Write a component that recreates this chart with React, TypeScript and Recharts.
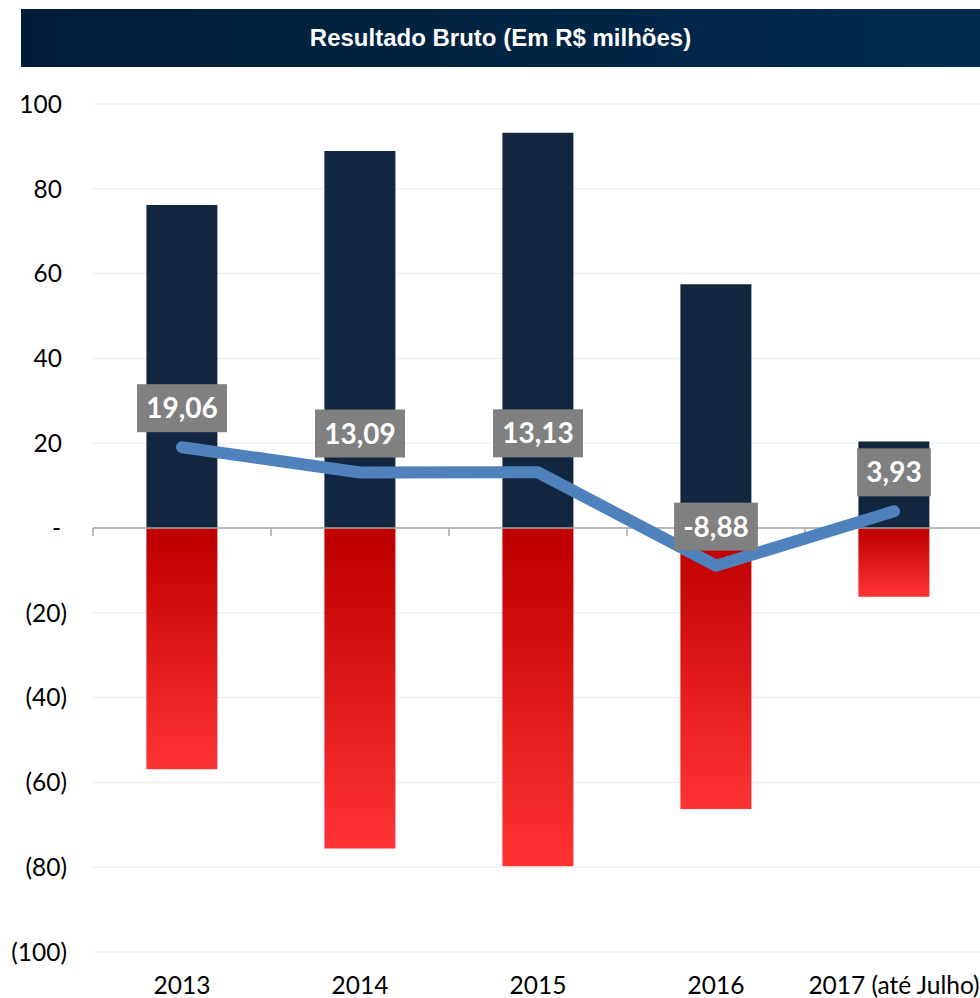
import React from 'react';
import {
  ComposedChart,
  Bar,
  Line,
  XAxis,
  YAxis,
  CartesianGrid,
  ReferenceLine,
} from 'recharts';

const categories = ['2013', '2014', '2015', '2016', '2017 (até Julho)'];
const receitas = [76.2, 88.9, 93.2, 57.5, 20.4];
const custos = [-56.9, -75.6, -79.8, -66.3, -16.2];
const resultado = [19.06, 13.09, 13.13, -8.88, 3.93];
const yTicks = [100, 80, 60, 40, 20, 0, -20, -40, -60, -80, -100];

const data = categories.map((c, i) => ({
  categoria: c,
  receita: receitas[i],
  custo: custos[i],
  resultado: resultado[i],
}));

const fmtLabel = (v: number) => v.toFixed(2).replace('.', ',');

const TICK_FONT = "Lato, 'Open Sans', sans-serif";

const YTick = (props: any) => {
  const { y, payload } = props;
  const v = payload.value as number;
  let txt = '';
  let tx = 62;
  if (v === 0) {
    txt = '-';
    tx = 61;
  } else if (v < 0) {
    txt = `(${Math.abs(v)})`;
    tx = 67;
  } else {
    txt = String(v);
    tx = 62;
  }
  return (
    <text
      x={tx}
      y={y}
      dy="0.36em"
      textAnchor="end"
      fontFamily={TICK_FONT}
      fontSize={24.5}
      fill="#000"
    >
      {txt}
    </text>
  );
};

const XTick = (props: any) => {
  const { x, y, payload } = props;
  return (
    <text
      x={x}
      y={y + 42}
      textAnchor="middle"
      fontFamily={TICK_FONT}
      fontSize={24.5}
      fill="#000"
    >
      {payload.value}
    </text>
  );
};

const ZeroAxis = (props: any) => {
  const { x1, x2, y1 } = props;
  if (x1 == null || x2 == null || y1 == null) return null;
  const n = categories.length;
  const step = (x2 - x1) / n;
  const ticks = [];
  for (let i = 0; i <= n; i++) {
    const tx = x1 + step * i;
    ticks.push(
      <line key={i} x1={tx} x2={tx} y1={y1} y2={y1 + 8} stroke="#A6A6A6" strokeWidth={1.5} />
    );
  }
  return (
    <g>
      <line x1={x1} x2={x2} y1={y1} y2={y1} stroke="#A6A6A6" strokeWidth={1.5} />
      {ticks}
    </g>
  );
};

const LabelDot = (props: any) => {
  const { cx, cy, payload, index } = props;
  if (cx == null || cy == null) return <g key={`ld-${index}`} />;
  const v = payload.resultado as number;
  const txt = fmtLabel(v);
  const fs = 28;
  let w = 0;
  for (const ch of txt) {
    if (ch === ',') w += 0.25 * fs;
    else if (ch === '-') w += 0.36 * fs;
    else w += 0.58 * fs;
  }
  const bw = w + 18;
  const bh = 48;
  const centerY = cy - 39;
  return (
    <g key={`ld-${index}`}>
      <rect x={cx - bw / 2} y={centerY - bh / 2} width={bw} height={bh} fill="#808080" />
      <text
        x={cx}
        y={centerY}
        dy="0.36em"
        textAnchor="middle"
        fontFamily={TICK_FONT}
        fontWeight={700}
        fontSize={fs}
        fill="#FFFFFF"
      >
        {txt}
      </text>
    </g>
  );
};

export default function App() {
  return (
    <div
      style={{
        position: 'absolute',
        left: 0,
        top: 0,
        width: 980,
        height: 998,
        overflow: 'hidden',
        background: '#fff',
      }}
    >
      <div
        style={{
          position: 'absolute',
          left: 21,
          top: 9,
          width: 959,
          height: 58,
          background: 'linear-gradient(90deg, #001C38 0%, #00233F 40%, #002A52 100%)',
          color: '#fff',
          fontFamily: "'Liberation Sans', Arial, sans-serif",
          fontWeight: 700,
          fontSize: 24,
          display: 'flex',
          alignItems: 'center',
          justifyContent: 'center',
        }}
      >
        Resultado Bruto (Em R$ milhões)
      </div>
      <div style={{ position: 'absolute', left: 0, top: 0 }}>
        <ComposedChart
          width={983}
          height={998}
          data={data}
          stackOffset="sign"
          barCategoryGap="30%"
          margin={{ top: 104, right: 0, bottom: 0, left: 0 }}
        >
          <defs>
            <linearGradient id="negGrad" x1="0" y1="0" x2="0" y2="1">
              <stop offset="0%" stopColor="#C00000" />
              <stop offset="5%" stopColor="#C00000" />
              <stop offset="100%" stopColor="#FF3333" />
            </linearGradient>
          </defs>
          <CartesianGrid vertical={false} stroke="#EDF1F6" strokeWidth={1.5} />
          <XAxis
            dataKey="categoria"
            height={46}
            axisLine={false}
            tickLine={false}
            tickSize={0}
            tickMargin={0}
            interval={0}
            tick={<XTick />}
          />
          <YAxis
            width={93}
            domain={[-100, 100]}
            ticks={yTicks}
            axisLine={false}
            tickLine={false}
            interval={0}
            tick={<YTick />}
          />
          <Bar dataKey="receita" stackId="a" fill="#12263F" isAnimationActive={false} />
          <Bar dataKey="custo" stackId="a" fill="url(#negGrad)" isAnimationActive={false} />
          <ReferenceLine y={0} shape={ZeroAxis} />
          <Line
            dataKey="resultado"
            stroke="none"
            dot={LabelDot}
            activeDot={false}
            isAnimationActive={false}
            legendType="none"
          />
          <Line
            dataKey="resultado"
            type="linear"
            stroke="#4F81BD"
            strokeWidth={12}
            strokeLinecap="round"
            strokeLinejoin="round"
            dot={false}
            activeDot={false}
            isAnimationActive={false}
          />
        </ComposedChart>
      </div>
    </div>
  );
}
